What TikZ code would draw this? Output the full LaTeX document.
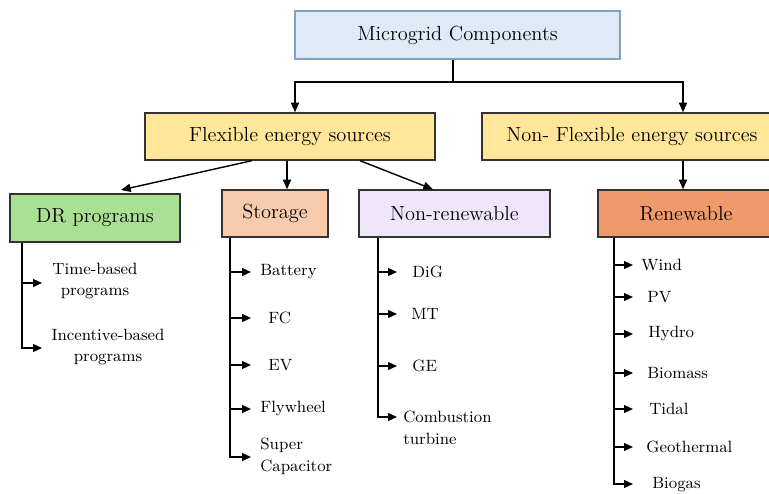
\documentclass[tikz,border=0pt]{standalone}
\usetikzlibrary{arrows.meta}

\definecolor{mgfill}{HTML}{DEEBF7}
\definecolor{mgline}{HTML}{7FA2C4}
\definecolor{flexfill}{HTML}{FFE699}
\definecolor{drfill}{HTML}{AAE094}
\definecolor{stfill}{HTML}{F8CBAD}
\definecolor{nrfill}{HTML}{F0E6FC}
\definecolor{rnfill}{HTML}{F09A6C}

\begin{document}
\begin{tikzpicture}[x=0.02cm,y=-0.02cm,
	box/.style={draw=black!80, line width=0.75pt, inner sep=0pt, font=\fontsize{11.6}{13.5}\selectfont},
	item/.style={anchor=west, inner sep=0pt, font=\fontsize{9.3}{12.5}\selectfont},
	main/.style={black, line width=0.8pt, -{Triangle[length=5.5pt,width=4.6pt]}},
	sub/.style={black, line width=0.8pt, -{Triangle[length=5pt,width=4.4pt]}},
	trunk/.style={black, line width=0.8pt}]
	\useasboundingbox (0,0) rectangle (769,494);
	\clip (0,0) rectangle (769,494);

	\node[box, draw=mgline, fill=mgfill, minimum width=6.5cm, minimum height=0.96cm] (mg) at (457.5,35) {Microgrid Components};
	\node[box, fill=flexfill, minimum width=5.8cm, minimum height=0.94cm] (flex) at (290,136.5) {Flexible energy sources};
	\node[box, fill=flexfill, minimum width=6.0cm, minimum height=0.94cm] (nflex) at (632,136.5) {Non- Flexible energy sources};
	\node[box, fill=drfill, minimum width=3.4cm, minimum height=0.96cm] (dr) at (95,218) {DR programs};
	\node[box, fill=stfill, minimum width=2.12cm, minimum height=0.94cm] (st) at (275,213.5) {Storage};
	\node[box, fill=nrfill, minimum width=3.82cm, minimum height=0.94cm] (nr) at (454.5,213.5) {Non-renewable};
	\node[box, fill=rnfill, minimum width=3.52cm, minimum height=0.94cm] (rn) at (686,213.5) {Renewable};

	% top split
	\coordinate (split) at (453,82);
	\coordinate (a1) at (295,82);
	\coordinate (a2) at (683,82);
	\draw[trunk] (mg.south -| split) -- (split);
	\draw[main] (split) -- (a1) -- (a1 |- flex.north);
	\draw[main] (split) -- (a2) -- (a2 |- nflex.north);
	\draw[main] (nflex.south -| a2) -- (rn.north -| a2);

	% flexible sources
	\draw[main] (flex.south -| 252,0) -- (121,190);
	\draw[main] (flex.south -| 287,0) -- (st.north -| 287,0);
	\draw[main] (flex.south -| 360,0) -- (nr.north -| 433,0);

	% DR programs
	\coordinate (drx) at (22,0);
	\coordinate (d2) at (42,348);
	\node[item, anchor=center, align=center] (tb) at (95,281) {Time-based\\programs};
	\node[item, anchor=center, align=center] (ib) at (108,347) {Incentive-based\\programs};
	\draw[sub] (drx |- 0,283) -- ++(20,0);
	\draw[sub] (dr.south -| drx) |- (d2);

	% storage
	\coordinate (stx) at (230,0);
	\coordinate (s5) at (251,457);
	\node[item] (bat) at (260,272) {Battery};
	\node[item] (fc) at (268,318) {FC};
	\node[item] (ev) at (268,365) {EV};
	\node[item] (fly) at (260,409) {Flywheel};
	\node[item, align=left] (cap) at (260,456) {Super\\Capacitor};
	\draw[sub] (stx |- bat) -- ++(21,0);
	\draw[sub] (stx |- fc) -- ++(21,0);
	\draw[sub] (stx |- ev) -- ++(21,0);
	\draw[sub] (stx |- fly) -- ++(21,0);
	\draw[sub] (st.south -| stx) |- (s5);

	% non-renewable
	\coordinate (nrx) at (378,0);
	\coordinate (n4) at (397,417);
	\node[item] (dig) at (412,272) {DiG};
	\node[item] (mt) at (411,314) {MT};
	\node[item] (ge) at (412,366) {GE};
	\node[item, align=left] (comb) at (403,428) {Combustion\\turbine};
	\draw[sub] (nrx |- dig) -- ++(19,0);
	\draw[sub] (nrx |- mt) -- ++(19,0);
	\draw[sub] (nrx |- ge) -- ++(19,0);
	\draw[sub] (nr.south -| nrx) |- (n4);

	% renewable
	\coordinate (rnx) at (614,0);
	\coordinate (r7) at (633,484);
	\node[item] (wind) at (641,265) {Wind};
	\node[item] (pv) at (647,297) {PV};
	\node[item] (hyd) at (648,334) {Hydro};
	\node[item] (bio) at (647,373) {Biomass};
	\node[item] (tid) at (649,409) {Tidal};
	\node[item] (geo) at (646,447) {Geothermal};
	\node[item] (bgas) at (652,485) {Biogas};
	\draw[sub] (rnx |- wind) -- ++(19,0);
	\draw[sub] (rnx |- pv) -- ++(19,0);
	\draw[sub] (rnx |- hyd) -- ++(19,0);
	\draw[sub] (rnx |- bio) -- ++(19,0);
	\draw[sub] (rnx |- tid) -- ++(19,0);
	\draw[sub] (rnx |- geo) -- ++(19,0);
	\draw[sub] (rn.south -| rnx) |- (r7);
\end{tikzpicture}
\end{document}
